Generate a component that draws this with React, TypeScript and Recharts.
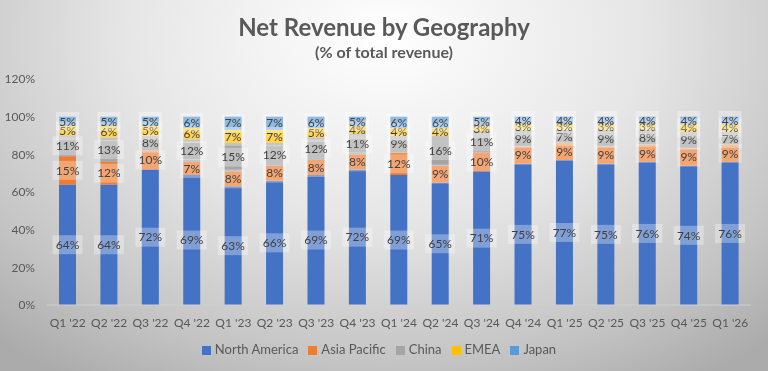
import React from "react";
import { BarChart, Bar, XAxis, YAxis, Legend, LabelList } from "recharts";

const quarters = ["Q1 '22", "Q2 '22", "Q3 '22", "Q4 '22", "Q1 '23", "Q2 '23", "Q3 '23", "Q4 '23", "Q1 '24", "Q2 '24", "Q3 '24", "Q4 '24", "Q1 '25", "Q2 '25", "Q3 '25", "Q4 '25", "Q1 '26"];
const northAmerica = [64, 64, 72, 69, 63, 66, 69, 72, 69, 65, 71, 75, 77, 75, 76, 74, 76];
const asiaPacific = [15, 12, 10, 7, 8, 8, 8, 8, 12, 9, 10, 9, 9, 9, 9, 9, 9];
const china = [11, 13, 8, 12, 15, 12, 12, 11, 9, 16, 11, 9, 7, 9, 8, 9, 7];
const emea = [5, 6, 5, 6, 7, 7, 5, 4, 4, 4, 3, 3, 3, 3, 3, 4, 4];
const japan = [5, 5, 5, 6, 7, 7, 6, 5, 6, 6, 5, 4, 4, 4, 4, 4, 4];
const yTicks = [0, 20, 40, 60, 80, 100, 120];

const series = [
  { key: "na", name: "North America", color: "#4472C4", values: northAmerica },
  { key: "ap", name: "Asia Pacific", color: "#ED7D31", values: asiaPacific },
  { key: "cn", name: "China", color: "#A5A5A5", values: china },
  { key: "emea", name: "EMEA", color: "#FFC000", values: emea },
  { key: "jp", name: "Japan", color: "#5B9BD5", values: japan },
];

const data = quarters.map((q, i) => {
  const row: Record<string, any> = { quarter: q };
  series.forEach((s) => (row[s.key] = s.values[i]));
  return row;
});

const FONT = "Lato, 'Liberation Sans', sans-serif";

// data label with the semi-transparent white box behind it
const BoxLabel = (props: any) => {
  const { x, y, width, height, value } = props;
  const cx = x + width / 2;
  const cy = y + height / 2;
  const text = `${value}%`;
  const w = text.length * 7 + 9;
  const h = 19;
  return (
    <g>
      <rect x={cx - w / 2} y={cy - h / 2} width={w} height={h} fill="#ffffff" fillOpacity={0.32} />
      <text x={cx} y={cy} dy="0.35em" textAnchor="middle" fontSize={12} fill="#404040" fontFamily={FONT}>
        {text}
      </text>
    </g>
  );
};

export default function App() {
  return (
    <div
      style={{
        position: "fixed",
        left: 0,
        top: 0,
        width: 768,
        height: 371,
        background: "radial-gradient(ellipse 75% 110% at 50% 10%, #ffffff 0%, #e6e6e6 45%, #c4c4c4 80%, #ababab 100%)",
        fontFamily: FONT,
      }}
    >
      <div style={{ position: "absolute", top: 12, width: 768, textAlign: "center", fontSize: 24, fontWeight: 700, color: "#595959" }}>
        Net Revenue by Geography
      </div>
      <div style={{ position: "absolute", top: 42, width: 768, textAlign: "center", fontSize: 16, fontWeight: 700, color: "#595959" }}>
        (% of total revenue)
      </div>
      <div style={{ position: "absolute", left: 0, top: 0 }}>
        <BarChart width={768} height={371} data={data} margin={{ top: 79, right: 17, left: 0, bottom: 44 }} barSize={17}>
          <XAxis
            dataKey="quarter"
            axisLine={{ stroke: "#d0d0d0" }}
            tickLine={false}
            tickMargin={7}
            interval={0}
            height={22}
            tick={{ fontSize: 12, fill: "#595959", fontFamily: FONT }}
          />
          <YAxis
            domain={[0, 120]}
            ticks={yTicks}
            width={47}
            axisLine={false}
            tickLine={false}
            tickMargin={6}
            tickFormatter={(v) => `${v}%`}
            tick={{ fontSize: 12, fill: "#595959", fontFamily: FONT }}
          />
          <Legend
            layout="horizontal"
            verticalAlign="middle"
            align="center"
            iconType="square"
            iconSize={9}
            itemSorter={(item: any) => series.findIndex((s) => s.key === item.dataKey)}
            wrapperStyle={{ top: 341, left: 0, width: 768, fontSize: 13, fontFamily: FONT }}
            formatter={(value) => <span style={{ color: "#595959" }}>{value}</span>}
          />
          {series.map((s) => (
            <Bar key={s.key} dataKey={s.key} name={s.name} stackId="a" fill={s.color} isAnimationActive={false}>
              <LabelList dataKey={s.key} content={BoxLabel} />
            </Bar>
          ))}
        </BarChart>
      </div>
    </div>
  );
}
